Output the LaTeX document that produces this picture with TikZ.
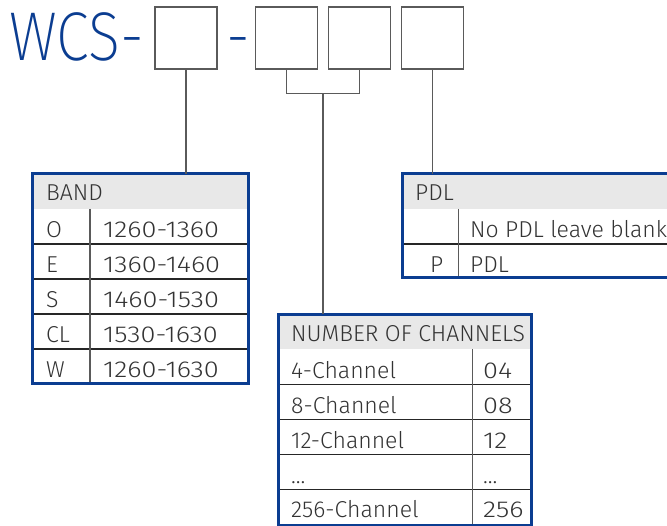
\documentclass[tikz,border=0pt]{standalone}
\usepackage{fontspec}
\setmainfont{Fira Sans}[UprightFont=* Light]
\newfontfamily\numfont{Fira Sans}[UprightFont=* Light, FakeStretch=1.18]
\newfontfamily\titlefont{Fira Sans}[UprightFont=* ExtraLight, FakeStretch=0.86]
\definecolor{wblue}{HTML}{0B3D91}
\definecolor{hgray}{HTML}{E8E8E8}
\definecolor{tgray}{HTML}{333333}
\definecolor{lgray}{HTML}{5A5A5A}
\tikzset{
  topbox/.style={draw=lgray, line width=1.5pt, minimum size=62pt, inner sep=0pt, outer sep=0pt},
  tbl/.style={draw=wblue, line width=3pt, inner sep=0pt, outer sep=0pt, anchor=north west},
  conn/.style={draw=lgray, line width=1.3pt},
  grid/.style={draw=black!85, line width=1.1pt},
  vdiv/.style={draw=lgray, line width=1.1pt},
  txt/.style={anchor=base west, inner sep=0pt, text=tgray, font=\fontsize{23}{23}\selectfont},
  num/.style={txt, font=\numfont\fontsize{23}{23}\selectfont},
  ttl/.style={anchor=base west, inner sep=0pt, text=wblue, font=\titlefont\fontsize{69}{69}\selectfont},
}
\begin{document}
\begin{tikzpicture}[x=1pt,y=-1pt]
\clip (0,0) rectangle (667,526);
\fill[white] (0,0) rectangle (667,526);
% title
\node[ttl] (wcs) at (9,61) {WCS-};
\node[ttl] (dash) at (226,61) {-};
\node[topbox] (b1) at (186,38) {};
\node[topbox] (b2) at (286.5,38) {};
\node[topbox] (b3) at (359.3,38) {};
\node[topbox] (b4) at (432.7,38) {};
% BAND table
\fill[hgray] (32,174) rectangle (248,209);
\draw[grid] (32,244) -- (248,244) (32,279) -- (248,279) (32,314) -- (248,314) (32,349) -- (248,349);
\draw[vdiv] (90,209) -- (90,384);
\node[tbl, minimum width=216pt, minimum height=210pt] (band) at (32,174) {};
\node[txt] (bh) at (46,201) {BAND};
\node[txt] (bo) at (46,238) {O};
\node[num] (bov) at (103,238) {1260-1360};
\node[txt] (be) at (46,273) {E};
\node[num] (bev) at (103,273) {1360-1460};
\node[txt] (bs) at (46,308) {S};
\node[num] (bsv) at (103,308) {1460-1530};
\node[txt] (bc) at (46,343) {CL};
\node[num] (bcv) at (103,343) {1530-1630};
\node[txt] (bw) at (46,378) {W};
\node[num] (bwv) at (103,378) {1260-1630};
% CHANNELS table
\fill[hgray] (278.5,314.5) rectangle (531,349.5);
\draw[grid] (278.5,384.5) -- (531,384.5) (278.5,419.5) -- (531,419.5) (278.5,454.5) -- (531,454.5) (278.5,489.5) -- (531,489.5);
\draw[vdiv] (472.3,349.5) -- (472.3,525);
\node[tbl, minimum width=252.5pt, minimum height=210.5pt] (chan) at (278.5,314.5) {};
\node[txt] (ch) at (291,341.5) {NUMBER OF CHANNELS};
\node[txt] (c1) at (291,379) {4-Channel};
\node[num] (c1v) at (483,379) {04};
\node[txt] (c2) at (291,414) {8-Channel};
\node[num] (c2v) at (483,414) {08};
\node[txt] (c3) at (291,449) {12-Channel};
\node[num] (c3v) at (483,449) {12};
\node[txt] (c4) at (291,484) {...};
\node[txt] (c4v) at (483,484) {...};
\node[txt] (c5) at (291,518) {256-Channel};
\node[num] (c5v) at (483,518) {256};
% PDL table
\fill[hgray] (402,174) rectangle (672,209);
\draw[grid] (402,244) -- (672,244);
\draw[vdiv] (458.3,209) -- (458.3,278);
\node[tbl, minimum width=270pt, minimum height=104pt] (pdl) at (402,174) {};
\node[txt] (ph) at (415,201) {PDL};
\node[txt] (p1v) at (470,238) {No PDL leave blank};
\node[txt] (p2) at (430,273) {P};
\node[txt] (p2v) at (470,273) {PDL};
% connectors
\draw[conn] (b1.south) -- (band.north -| b1.south);
\draw[conn] (b2.south) -- ++(0,24.5) coordinate (lb) -- (lb -| b3.south) -- (b3.south);
\path (lb) -- coordinate (mid) (lb -| b3.south);
\draw[conn] (mid) -- (mid |- chan.north);
\draw[conn] (b4.south) -- (pdl.north -| b4.south);
\end{tikzpicture}
\end{document}
